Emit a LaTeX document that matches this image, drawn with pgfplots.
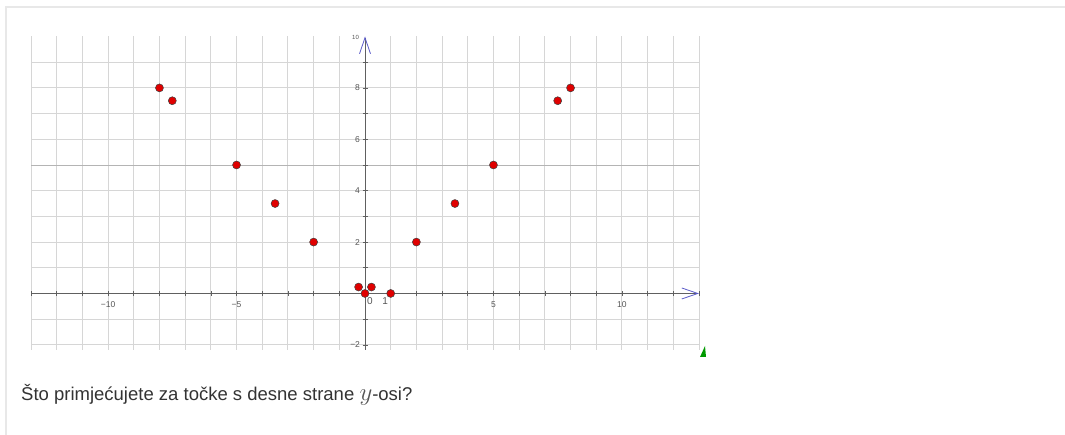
\documentclass[border=0pt]{standalone}
\usepackage{fontspec}
\setmainfont{Liberation Sans}
\usepackage{pgfplots}
\pgfplotsset{compat=1.18}
\usetikzlibrary{arrows.meta}
\definecolor{gridc}{HTML}{D6D6D6}
\definecolor{gridd}{HTML}{B4B4B4}
\definecolor{axc}{HTML}{606060}
\definecolor{arrc}{HTML}{5A5AC8}
\definecolor{ptred}{HTML}{E00000}
\definecolor{txt}{HTML}{333333}
\definecolor{lbl}{HTML}{555555}
\begin{document}
\begin{tikzpicture}[x=1pt,y=1pt]
\path[use as bounding box] (0,0) rectangle (1065,-435);
\draw[gray!18, line width=1.6pt] (1065,-7) -- (6,-7) -- (6,-435);
\begin{axis}[
  at={(31pt,-350pt)}, anchor=south west,
  scale only axis, width=668pt, height=313.5pt,
  xmin=-13, xmax=13, ymin=-2.2, ymax=10,
  axis lines=middle,
  clip=false,
  axis line style={axc, line width=0.9pt},
  x axis line style={-{Straight Barb[length=16pt,width=11pt,color=arrc,line width=0.8pt]}},
  y axis line style={-{Straight Barb[length=16pt,width=11pt,color=arrc,line width=0.8pt]}},
  xtick={-13,...,13},
  ytick={-2,...,9},
  xticklabels={{},{},{},{−10},{},{},{},{},{−5},{},{},{},{},{},{},{},{},{},{5},{},{},{},{},{10},{},{},{}},
  yticklabels={{−2},{},{},{},{2},{},{4},{},{6},{},{8},{}},
  extra y ticks={5},
  extra y tick labels={},
  extra y tick style={major grid style={gridd, line width=0.9pt}},
  tick label style={font=\fontsize{8.5}{9}\selectfont, text=lbl},
  xticklabel style={yshift=-2pt},
  yticklabel style={xshift=1pt},
  major tick length=5pt,
  tick align=center,
  tick style={axc, line width=0.6pt},
  grid=major,
  major grid style={gridc, line width=0.9pt},
]
\addplot[only marks, mark=*, mark size=4pt,
  mark options={fill=ptred, draw=black!75, line width=0.5pt}]
  coordinates {(-8,8)(-7.5,7.5)(-5,5)(-3.5,3.5)(-2,2)(-0.25,0.25)(0,0)(0.25,0.25)(1,0)(2,2)(3.5,3.5)(5,5)(7.5,7.5)(8,8)};
\node[font=\fontsize{10}{10}\selectfont, text=lbl] at (axis cs:0.19,-0.3) {0};
\node[font=\fontsize{10}{10}\selectfont, text=lbl] at (axis cs:0.78,-0.3) {1};
\node[font=\fontsize{6}{6}\selectfont, text=lbl, anchor=east] at (axis cs:-0.1,9.95) {10};
\end{axis}
\fill[green!60!black] (700,-357) -- (705,-346) -- (706,-357) -- cycle;
\node[anchor=base west, inner sep=0pt, font=\fontsize{18.5}{22}\selectfont, text=txt] at (21,-400)
  {Što primjećujete za točke s desne strane {\color{lbl}\fontsize{25}{25}\selectfont$y$}-osi?};
\end{tikzpicture}
\end{document}
